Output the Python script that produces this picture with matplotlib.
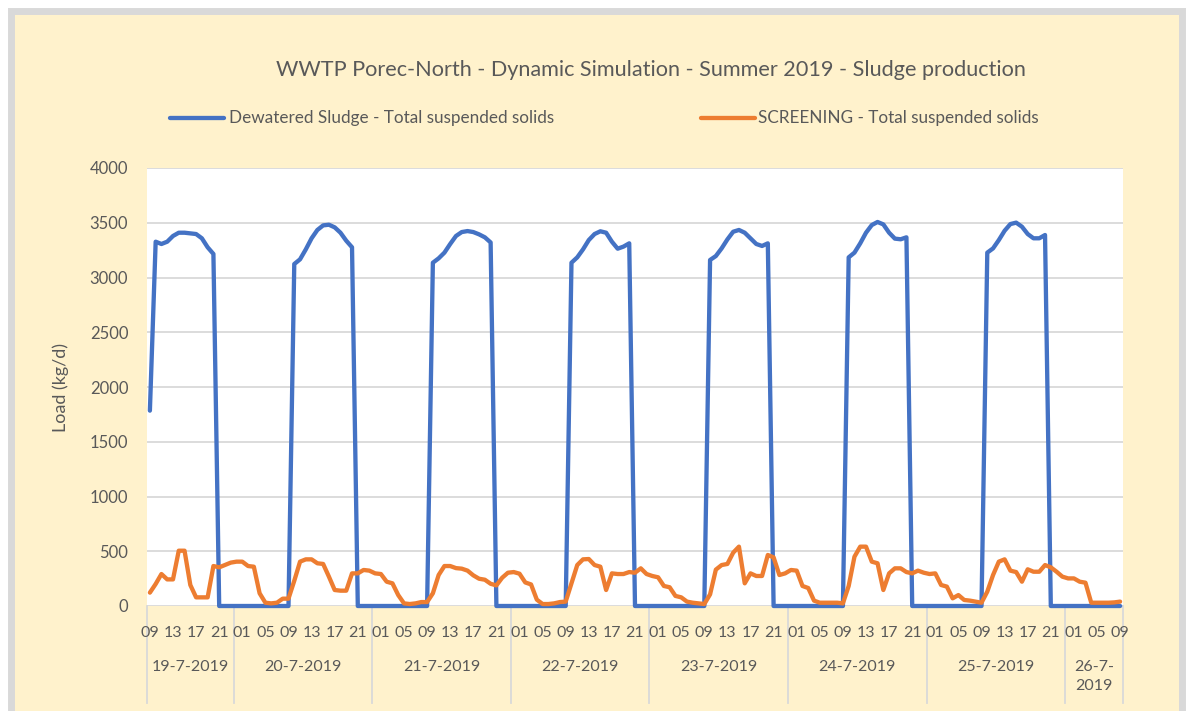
import matplotlib.pyplot as plt
from matplotlib.patches import Rectangle
from matplotlib.lines import Line2D
from matplotlib.transforms import blended_transform_factory

plt.rcParams['font.family'] = ['Lato', 'DejaVu Sans']

# hourly samples, 19-7-2019 09:00 .. 26-7-2019 09:00
hours = ['09', '10', '11', '12', '13', '14', '15', '16', '17', '18', '19', '20', '21', '22', '23'] + \
        ['%02d' % h for h in range(24)] * 6 + \
        ['00', '01', '02', '03', '04', '05', '06', '07', '08', '09']
days = ['19-7-2019', '20-7-2019', '21-7-2019', '22-7-2019', '23-7-2019', '24-7-2019', '25-7-2019', '26-7-\n2019']
day_lengths = [15, 24, 24, 24, 24, 24, 24, 10]

dewatered = [
    1784, 3327, 3306, 3327, 3379, 3409, 3409, 3403, 3397, 3358, 3276, 3215,
    0, 0, 0, 0, 0, 0, 0, 0, 0, 0, 0, 0, 0,
    3123, 3166, 3257, 3358, 3434, 3476, 3482, 3458, 3409, 3336, 3276,
    0, 0, 0, 0, 0, 0, 0, 0, 0, 0, 0, 0, 0,
    3135, 3175, 3227, 3306, 3379, 3415, 3424, 3415, 3394, 3367, 3320,
    0, 0, 0, 0, 0, 0, 0, 0, 0, 0, 0, 0, 0,
    3135, 3184, 3257, 3342, 3397, 3422, 3409, 3327, 3263, 3282, 3312,
    0, 0, 0, 0, 0, 0, 0, 0, 0, 0, 0, 0, 0,
    3160, 3196, 3266, 3348, 3418, 3434, 3409, 3358, 3306, 3288, 3312,
    0, 0, 0, 0, 0, 0, 0, 0, 0, 0, 0, 0, 0,
    3184, 3227, 3312, 3409, 3479, 3507, 3485, 3409, 3355, 3349, 3367,
    0, 0, 0, 0, 0, 0, 0, 0, 0, 0, 0, 0, 0,
    3227, 3266, 3342, 3427, 3488, 3501, 3464, 3397, 3358, 3358, 3388,
    0, 0, 0, 0, 0, 0, 0, 0, 0, 0, 0, 0, 0,
]
screening = [
    122, 201, 292, 243, 243, 505, 505, 192, 79, 79, 79, 365,
    353, 374, 396, 405, 405, 365, 359, 116, 30, 24, 30, 67, 67,
    230, 405, 426, 426, 390, 384, 268, 146, 140, 140, 298,
    298, 329, 323, 298, 292, 222, 207, 100, 24, 18, 24, 36, 36,
    116, 283, 365, 365, 346, 341, 323, 280, 249, 240, 203,
    188, 258, 304, 310, 295, 215, 197, 58, 18, 18, 24, 36, 40,
    207, 374, 426, 429, 374, 359, 146, 298, 292, 292, 310,
    304, 344, 292, 274, 262, 183, 171, 92, 79, 40, 30, 24, 18,
    106, 332, 374, 384, 487, 542, 207, 298, 274, 274, 466,
    444, 283, 298, 329, 323, 183, 164, 49, 30, 30, 30, 30, 24,
    183, 450, 542, 542, 405, 390, 146, 298, 344, 344, 310,
    298, 323, 304, 292, 298, 192, 177, 70, 100, 55, 49, 40, 30,
    131, 283, 405, 426, 323, 310, 222, 335, 313, 313, 374,
    353, 313, 268, 252, 252, 222, 213, 30, 30, 30, 30, 33, 40,
]

W, H = 1192, 711
text_col = '#595959'
grid_col = '#D9D9D9'
blue = '#4472C4'
orange = '#ED7D31'

fig = plt.figure(figsize=(W / 100, H / 100), dpi=100)
fig.patch.set_facecolor('white')

# chart area with grey frame
fig.add_artist(Rectangle((10.5 / W, -4 / H), 1171 / W, 704.5 / H, transform=fig.transFigure,
                         facecolor='#FFF2CC', edgecolor=grid_col, linewidth=5, zorder=0))

ax = fig.add_axes([147 / W, 105 / H, 976 / W, 438 / H])
ax.set_facecolor('white')
for s in ax.spines.values():
    s.set_visible(False)

x = [i + 0.5 for i in range(len(hours))]
ax.plot(x, dewatered, color=blue, lw=3.1, solid_joinstyle='round', solid_capstyle='round',
        clip_on=False, zorder=3)
ax.plot(x, screening, color=orange, lw=3.1, solid_joinstyle='round', solid_capstyle='round',
        clip_on=False, zorder=4)

ax.set_xlim(0, len(hours))
ax.set_ylim(0, 4000)
ax.set_yticks(range(0, 4001, 500))
ax.yaxis.grid(True, color=grid_col, lw=1.3)
ax.set_axisbelow(True)
ax.tick_params(axis='y', length=0, pad=13.5, labelsize=12, labelcolor=text_col)
ax.set_xticks([])
ax.set_ylabel('Load (kg/d)', fontsize=13, color=text_col, labelpad=15)

# hour labels and day groups under the axis
tr = blended_transform_factory(ax.transData, ax.transAxes)
for i, h in enumerate(hours):
    if i % 4 == 0:
        ax.text(i + 0.5, -0.0616, h, transform=tr, ha='center', va='center',
                fontsize=11.5, color=text_col)

start = 0
bounds = [0]
for d, n in zip(days, day_lengths):
    ax.text(start + n / 2, -0.124, d, transform=tr, ha='center', va='top',
            fontsize=11.5, color=text_col, linespacing=1.45)
    start += n
    bounds.append(start)
for b in bounds:
    ax.plot([b, b], [0, -0.2215], transform=tr, color=grid_col, lw=1.3, clip_on=False)

fig.text(650.5 / W, 1 - 70 / H,
         'WWTP Porec-North - Dynamic Simulation - Summer 2019 - Sludge production',
         ha='center', va='center', fontsize=15.6, color=text_col)

# legend
ly = 1 - 117.5 / H
fig.add_artist(Line2D([170 / W, 224 / W], [ly, ly], color=blue, lw=3.1, solid_capstyle='round'))
fig.text(229 / W, ly, 'Dewatered Sludge - Total suspended solids', ha='left', va='center',
         fontsize=12.3, color=text_col)
fig.add_artist(Line2D([701 / W, 755 / W], [ly, ly], color=orange, lw=3.1, solid_capstyle='round'))
fig.text(758 / W, ly, 'SCREENING - Total suspended solids', ha='left', va='center',
         fontsize=12.3, color=text_col)

fig.savefig('out.png', dpi=100)
